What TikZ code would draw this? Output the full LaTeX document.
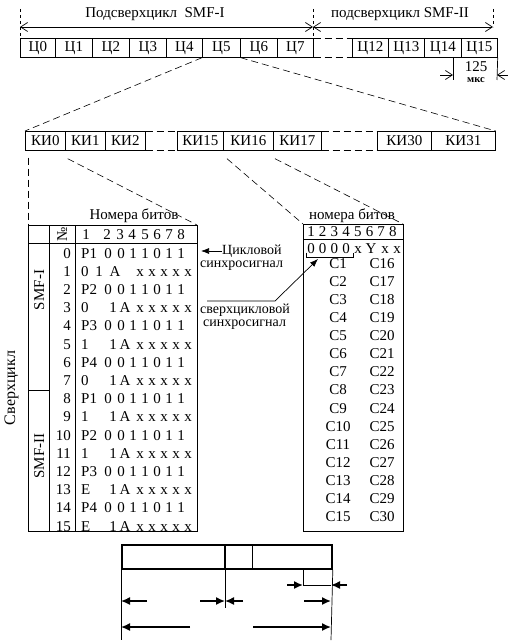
\documentclass[tikz,border=0pt]{standalone}
\usepackage{fontspec}
\setmainfont{Liberation Serif}
\usetikzlibrary{arrows.meta,calc}
\begin{document}
\begin{tikzpicture}[x=1pt,y=-1pt,
  font=\fontsize{15}{17}\selectfont,
  cellbox/.style={draw, line width=0.7pt, minimum height=19pt, inner sep=0pt, anchor=north west},
  txt/.style={inner sep=0pt, text height=10pt, text depth=0pt},
  note/.style={inner sep=0pt, anchor=west, font=\fontsize{14}{16}\selectfont},
  dsh/.style={line width=0.6pt, dash pattern=on 7pt off 4pt},
  dshv/.style={line width=0.6pt, dash pattern=on 3pt off 3pt},
  thin/.style={line width=0.7pt},
  barb/.style={thin, {Straight Barb[length=7pt,width=9pt]}-{Straight Barb[length=7pt,width=9pt]}},
  rbarb/.style={thin, -{Straight Barb[length=7pt,width=9pt]}},
  fill arrow/.style={thin, -{Latex[length=8pt,width=6pt]}},
  bold arrow/.style={line width=1.5pt, -{Latex[length=9pt,width=8pt]}}]
\useasboundingbox (0,0) rectangle (508,642);

% ---------- top: sub-multiframes ----------
\node[txt] (t1) at (155,13) {Подсверхцикл\ \ SMF-I};
\node[txt] (t2) at (400,13) {подсверхцикл SMF-II};
\coordinate (a0) at (20,27);
\coordinate (a1) at (313,27);
\coordinate (a2) at (493,27);
\draw[dshv] (20,9) -- (20,38);
\draw[dshv] (313,9) -- (313,38);
\draw[dshv] (493,9) -- (493,27);
\draw[barb] (a0) -- (a1);
\draw[barb] (a1) -- (a2);

\node[cellbox, minimum width=35pt] (c0) at (20,38) {Ц0};
\node[cellbox, minimum width=37pt] (c1) at (55,38) {Ц1};
\node[cellbox, minimum width=37pt] (c2) at (92,38) {Ц2};
\node[cellbox, minimum width=37pt] (c3) at (129,38) {Ц3};
\node[cellbox, minimum width=36pt] (c4) at (166,38) {Ц4};
\node[cellbox, minimum width=38pt] (c5) at (202,38) {Ц5};
\node[cellbox, minimum width=37pt] (c6) at (240,38) {Ц6};
\node[cellbox, minimum width=36pt] (c7) at (277,38) {Ц7};
\node[cellbox, minimum width=36pt] (c12) at (352,38) {Ц12};
\node[cellbox, minimum width=36pt] (c13) at (388,38) {Ц13};
\node[cellbox, minimum width=37pt] (c14) at (424,38) {Ц14};
\node[cellbox, minimum width=36pt] (c15) at (461,38) {Ц15};
\draw[dsh] (c7.north east) -- (c12.north west);
\draw[dsh] (c7.south east) -- (c12.south west);

% 125 us
\coordinate (m1) at (453,57);
\coordinate (m1b) at (453,80);
\coordinate (m2b) at (497,80);
\draw[thin] (m1) -- (m1b);
\draw[thin] (c15.south east) -- (m2b);
\draw[rbarb] (440,75) -- (453,75);
\draw[rbarb] (508,75) -- (497,75);
\node[txt] (us1) at (476,66) {125};
\node[inner sep=0pt, font=\fontsize{10.5}{12}\selectfont\bfseries] (us2) at (476,80) {мкс};

% ---------- timeslot row ----------
\node[cellbox, minimum width=40pt] (k0) at (25,131) {КИ0};
\node[cellbox, minimum width=40pt] (k1) at (65,131) {КИ1};
\node[cellbox, minimum width=40pt] (k2) at (105,131) {КИ2};
\node[cellbox, minimum width=46pt] (k15) at (177,131) {КИ15};
\node[cellbox, minimum width=50pt] (k16) at (223,131) {КИ16};
\node[cellbox, minimum width=48pt] (k17) at (273,131) {КИ17};
\node[cellbox, minimum width=54pt] (k30) at (377,131) {КИ30\hspace{3pt}};
\node[cellbox, minimum width=64pt] (k31) at (431,131) {КИ31\hspace{14pt}};
\draw[dsh] (k2.north east) -- (k15.north west);
\draw[dsh] (k2.south east) -- (k15.south west);
\draw[dsh] (k17.north east) -- (k30.north west);
\draw[dsh] (k17.south east) -- (k30.south west);

\draw[dsh] (c5.south west) -- (k0.north west);
\draw[dsh] (c5.south east) -- (k31.north east);

% ---------- left table ----------
\coordinate (LTnw) at (28,225);
\coordinate (LTne) at (197,225);
\coordinate (LTsw) at (28,531);
\coordinate (LTse) at (197,531);
\draw[thin] (LTnw) rectangle (LTse);
\draw[thin] (28,243) -- (197,243);
\draw[thin] (49,225) -- (49,531);
\draw[thin] (75,225) -- (75,531);
\draw[thin] (28,390) -- (49,390);

\draw[dsh] ($(k0.south west)+(3,7)$) -- (LTnw);
\draw[dsh] ($(k0.south east)+(2,8)$) -- (LTne);

\node[txt] (lh) at (134,214) {Номера битов};
\node[txt, rotate=90] (lno) at (62,234) {№};
\foreach \x/\d in {86/1,107/2,120/3,132/4,145/5,157/6,169/7,181/8}
  \node[txt] (lhd\d) at (\x,234) {\d};

\node[txt, rotate=90] (smf1) at (39,290) {SMF-I};
\node[txt, rotate=90] (smf2) at (39,456) {SMF-II};
\node[txt, rotate=90, font=\fontsize{16}{18}\selectfont] (sc) at (10,388) {Сверхцикл};

\foreach \r in {0,...,15}
  \node[txt, anchor=east] (ln\r) at (71,253+18.2*\r) {\r};

\foreach \r/\f in {0/P1,2/P2,4/P3,6/P4,8/P1,10/P2,12/P3,14/P4}{
  \node[txt, anchor=west] (lf\r) at (81,253+18.2*\r) {\f};
  \foreach \x/\d [count=\i] in {108/0,121/0,133/1,145/1,157/0,169/1,181/1}
    \node[txt] (lb\r-\i) at (\x,253+18.2*\r) {\d};
}
% row 1
\node[txt, anchor=west] (lf1) at (81,271.2) {0};
\foreach \x/\d [count=\i] in {99/1,115/A,140/x,152/x,164/x,176/x,188/x}
  \node[txt] (lb1-\i) at (\x,271.2) {\d};
% other odd rows
\foreach \r/\f in {3/0,5/1,7/0,9/1,11/1,13/E,15/E}{
  \node[txt, anchor=west] (lf\r) at (81,253+18.2*\r) {\f};
  \foreach \x/\d [count=\i] in {113/1,125/A,140/x,152/x,164/x,176/x,188/x}
    \node[txt] (lb\r-\i) at (\x,253+18.2*\r) {\d};
}

% ---------- annotations ----------
\node[note] (cyc1) at (222,251) {Цикловой};
\node[note] (cyc2) at (200,266) {синхросигнал};
\draw[fill arrow] (cyc1.west) -- (201,251);

\node[note] (mf1) at (200,310) {сверхцикловой};
\node[note] (mf2) at (203,325) {синхросигнал};

% ---------- right table ----------
\coordinate (RTnw) at (303,224);
\coordinate (RTne) at (403,224);
\coordinate (RTse) at (403,531);
\draw[thin] (RTnw) rectangle (RTse);
\draw[thin] (303,239) -- (403,239);
\draw[dsh] ($(k16.south west)+(4,8)$) -- (RTnw);
\draw[dsh] ($(k17.south west)+(2,8)$) -- (RTne);

\node[txt] (rh) at (352,214) {номера битов};
\foreach \d in {1,...,8}
  \node[txt] (rhd\d) at (311+11.7*\d-11.7,231) {\d};
\foreach \x/\d [count=\i] in {311/0,322.7/0,334.4/0,346/0,358/x,371/Y,385/x,397/x}
  \node[txt] (rz\i) at (\x,248) {\d};
\draw[thin] (306,252.5) -- (306,257) -- (353,257) -- (353,252.5);
\coordinate (br) at (318,259);
\draw[fill arrow] (207,301) -- (275,301) -- (br);

\foreach \i in {1,...,15}{
  \pgfmathtruncatemacro{\j}{\i+15}
  \node[txt] (cl\i) at (338,263+18.14*\i-18.14) {C\i};
  \node[txt] (cr\j) at (382,263+18.14*\i-18.14) {C\j};
}

% ---------- bottom diagram ----------
\node[draw, line width=1.8pt, minimum width=210pt, minimum height=24pt, inner sep=0pt, anchor=north west] (bb) at (121,544) {};
\draw[line width=1.8pt] (225,544) -- (225,568);
\draw[thin] (252,544) -- (252,568);
\draw[thin] (bb.south west) -- (121,640);
\draw[thin] (bb.south east) -- (331,640);
\draw[thin] (225,568) -- (225,608);
\draw[thin] (303,568) -- (303,585);
\draw[thin] (303,585) -- (331,585);
\draw[bold arrow] (287,585) -- (303,585);
\draw[bold arrow] (347,585) -- (331,585);
\draw[bold arrow] (147,601) -- (121,601);
\draw[bold arrow] (200,601) -- (225,601);
\draw[bold arrow] (243,601) -- (225,601);
\draw[bold arrow] (304,601) -- (331,601);
\draw[bold arrow] (190,627) -- (121,627);
\draw[bold arrow] (253,627) -- (331,627);
\end{tikzpicture}
\end{document}
